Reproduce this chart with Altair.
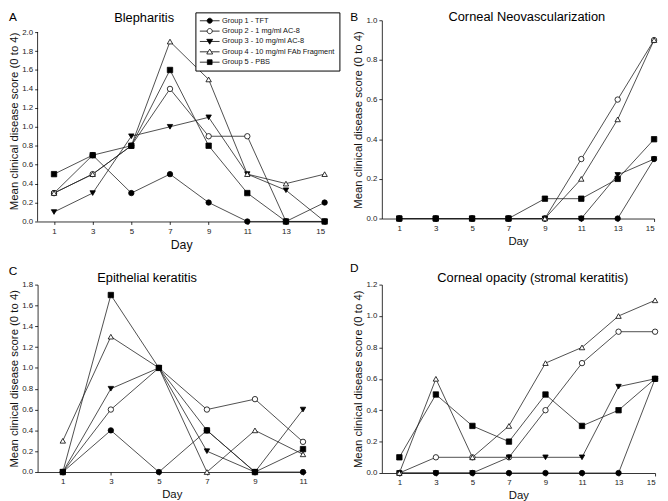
import altair as alt
import pandas as pd

FONT = "Liberation Sans"

groups = ["Group 1 - TFT", "Group 2 - 1 mg/ml AC-8", "Group 3 - 10 mg/ml AC-8",
          "Group 4 - 10 mg/ml FAb Fragment", "Group 5 - PBS"]
shapes = ["circle", "circle", "triangle-down", "triangle-up", "square"]
fills = ["black", "white", "black", "white", "black"]
strokes = ["black", "black", "black", "black", "black"]
legend_paths = [
    "M-1,0H4M2.15,0A0.65,0.65,0,1,1,0.85,0A0.65,0.65,0,1,1,2.15,0Z",
    "M-1,0H0.85M2.15,0H4M2.15,0A0.65,0.65,0,1,1,0.85,0A0.65,0.65,0,1,1,2.15,0Z",
    "M-1,0H4M0.75,-0.55H2.25L1.5,0.7Z",
    "M-1,0H1.08M1.92,0H4M1.5,-0.7L2.25,0.55H0.75Z",
    "M-1,0H4M0.9,-0.6H2.1V0.6H0.9Z",
]

days_15 = [1, 3, 5, 7, 9, 11, 13, 15]
days_11 = [1, 3, 5, 7, 9, 11]

# A - Blepharitis
bleph_g1 = [0.3, 0.7, 0.3, 0.5, 0.2, 0.0, 0.0, 0.2]
bleph_g2 = [0.3, 0.5, 0.8, 1.4, 0.9, 0.9, 0.0, 0.0]
bleph_g3 = [0.1, 0.3, 0.9, 1.0, 1.1, 0.5, 0.33, 0.0]
bleph_g4 = [0.3, 0.5, 0.8, 1.9, 1.5, 0.5, 0.4, 0.5]
bleph_g5 = [0.5, 0.7, 0.8, 1.6, 0.8, 0.3, 0.0, 0.0]

# B - Corneal Neovascularization
neo_g1 = [0, 0, 0, 0, 0, 0, 0, 0.3]
neo_g2 = [0, 0, 0, 0, 0, 0.3, 0.6, 0.9]
neo_g3 = [0, 0, 0, 0, 0, 0, 0.22, 0.3]
neo_g4 = [0, 0, 0, 0, 0, 0.2, 0.5, 0.9]
neo_g5 = [0, 0, 0, 0, 0.1, 0.1, 0.2, 0.4]

# C - Epithelial keratitis
epi_g1 = [0, 0.4, 0, 0.4, 0, 0]
epi_g2 = [0, 0.6, 1.0, 0.6, 0.7, 0.29]
epi_g3 = [0, 0.8, 1.0, 0.2, 0, 0.6]
epi_g4 = [0.3, 1.3, 1.0, 0, 0.4, 0.17]
epi_g5 = [0, 1.7, 1.0, 0.4, 0, 0.22]

# D - Corneal opacity
opa_g1 = [0, 0, 0, 0, 0, 0, 0, 0.6]
opa_g2 = [0, 0.1, 0.1, 0.1, 0.4, 0.7, 0.9, 0.9]
opa_g3 = [0, 0, 0, 0.1, 0.1, 0.1, 0.55, 0.6]
opa_g4 = [0, 0.6, 0.1, 0.3, 0.7, 0.8, 1.0, 1.1]
opa_g5 = [0.1, 0.5, 0.3, 0.2, 0.5, 0.3, 0.4, 0.6]

YTITLE = "Mean clinical disease score (0 to 4)"


def make_df(days, series):
    rows = []
    for g, vals in zip(groups, series):
        for d, v in zip(days, vals):
            rows.append({"Day": d, "Score": v, "Group": g})
    return pd.DataFrame(rows)


def panel(df, days, xdom, ytop, ydom_max, width, height, title, tx, ty,
          letter, lx, ly, legend=False, xtitle_size=11.5):
    yvals = [round(i * 0.2, 1) for i in range(int(round(ytop / 0.2)) + 1)]
    manual_y_line = ydom_max > ytop + 1e-9
    common = dict(grid=False, domainColor="black", domainWidth=0.8, tickColor="black",
                  tickWidth=0.8, tickSize=3, labelFontSize=8, labelColor="#222",
                  titleFontWeight="normal", titleColor="#111", labelOverlap=False,
                  labelFont=FONT, titleFont=FONT, tickCount=50)
    xenc = alt.X("Day:Q", scale=alt.Scale(domain=xdom, nice=False, zero=False),
                 axis=alt.Axis(values=days, format="d", title="Day", labelPadding=3,
                               titlePadding=3, titleFontSize=xtitle_size, **common))
    yenc = alt.Y("Score:Q", scale=alt.Scale(domain=[0, ydom_max], nice=False, zero=True),
                 axis=alt.Axis(values=yvals, format=".1f", title=YTITLE,
                               domain=not manual_y_line, labelPadding=2, titlePadding=2,
                               titleFontSize=11.5, **common))
    base = alt.Chart(df)
    lines = base.mark_line(color="#222", strokeWidth=0.8).encode(
        x=xenc, y=yenc, detail="Group:N")
    pts = base.mark_point(filled=True, stroke="black", strokeWidth=0.8, size=30,
                          opacity=1).encode(
        x="Day:Q", y="Score:Q",
        shape=alt.Shape("Group:N", scale=alt.Scale(domain=groups, range=shapes), legend=None),
        fill=alt.Fill("Group:N", scale=alt.Scale(domain=groups, range=fills), legend=None),
    )
    tdf = pd.DataFrame({"t": [title]})
    ttl = alt.Chart(tdf).mark_text(font=FONT, fontSize=13, color="black",
                                   align="center", baseline="middle").encode(
        text="t:N", x=alt.value(tx), y=alt.value(ty))
    ldf = pd.DataFrame({"t": [letter]})
    let = alt.Chart(ldf).mark_text(font=FONT, fontSize=12, color="black",
                                   align="center", baseline="middle").encode(
        text="t:N", x=alt.value(lx), y=alt.value(ly))
    layers = [lines, pts, ttl, let]
    if manual_y_line:
        rule = alt.Chart(tdf).mark_rule(color="black", strokeWidth=0.8).encode(
            x=alt.value(0), y=alt.datum(0), y2=alt.datum(ytop))
        layers.append(rule)
    if legend:
        leg_opts = dict(title=None, orient="none", legendX=160, legendY=-8,
                        strokeColor="black", fillColor="white", padding=4,
                        symbolSize=64, labelOffset=14, labelFontSize=7.5, labelFont=FONT,
                        labelColor="#111", rowPadding=1.5, symbolStrokeWidth=0.8)
        leg = base.transform_filter("datum.Day < 0").mark_point(
            filled=True, strokeWidth=0.8, opacity=1).encode(
            x="Day:Q", y="Score:Q",
            shape=alt.Shape("Group:N", scale=alt.Scale(domain=groups, range=legend_paths),
                            legend=alt.Legend(**leg_opts)),
            fill=alt.Fill("Group:N", scale=alt.Scale(domain=groups, range=fills),
                          legend=alt.Legend(**leg_opts)),
            stroke=alt.Stroke("Group:N", scale=alt.Scale(domain=groups, range=strokes),
                              legend=alt.Legend(**leg_opts)),
        )
        layers.append(leg)
    ch = alt.layer(*layers).properties(width=width, height=height)
    if legend:
        ch = ch.resolve_scale(shape="independent", fill="independent", stroke="independent")
    return ch


dfA = make_df(days_15, [bleph_g1, bleph_g2, bleph_g3, bleph_g4, bleph_g5])
dfB = make_df(days_15, [neo_g1, neo_g2, neo_g3, neo_g4, neo_g5])
dfC = make_df(days_11, [epi_g1, epi_g2, epi_g3, epi_g4, epi_g5])
dfD = make_df(days_15, [opa_g1, opa_g2, opa_g3, opa_g4, opa_g5])

A = panel(dfA, days_15, [0.15, 15], 2.0, 2.0 * 204 / 192, 291, 204, "Blepharitis", 108, -2,
          "A", -25, -3, legend=True, xtitle_size=12.5)
B = panel(dfB, days_15, [0.04, 15], 1.0, 1.0, 276, 201, "Corneal Neovascularization", 147, -3,
          "B", -28, -3)
C = panel(dfC, days_11, [-0.05, 11.12], 1.8, 1.8, 272, 190, "Epithelial keratitis", 111, -7,
          "C", -25, -14)
D = panel(dfD, days_15, [0.04, 15], 1.2, 1.2, 277, 191, "Corneal opacity (stromal keratitis)",
          153, -7, "D", -28, -17)

chart = alt.concat(A, B, C, D, columns=2, spacing={"row": 64, "column": 58},
                   bounds="flush").properties(padding=0).configure_view(stroke=None)

chart.save("out.html", embed_options={"renderer": "svg", "actions": False})
